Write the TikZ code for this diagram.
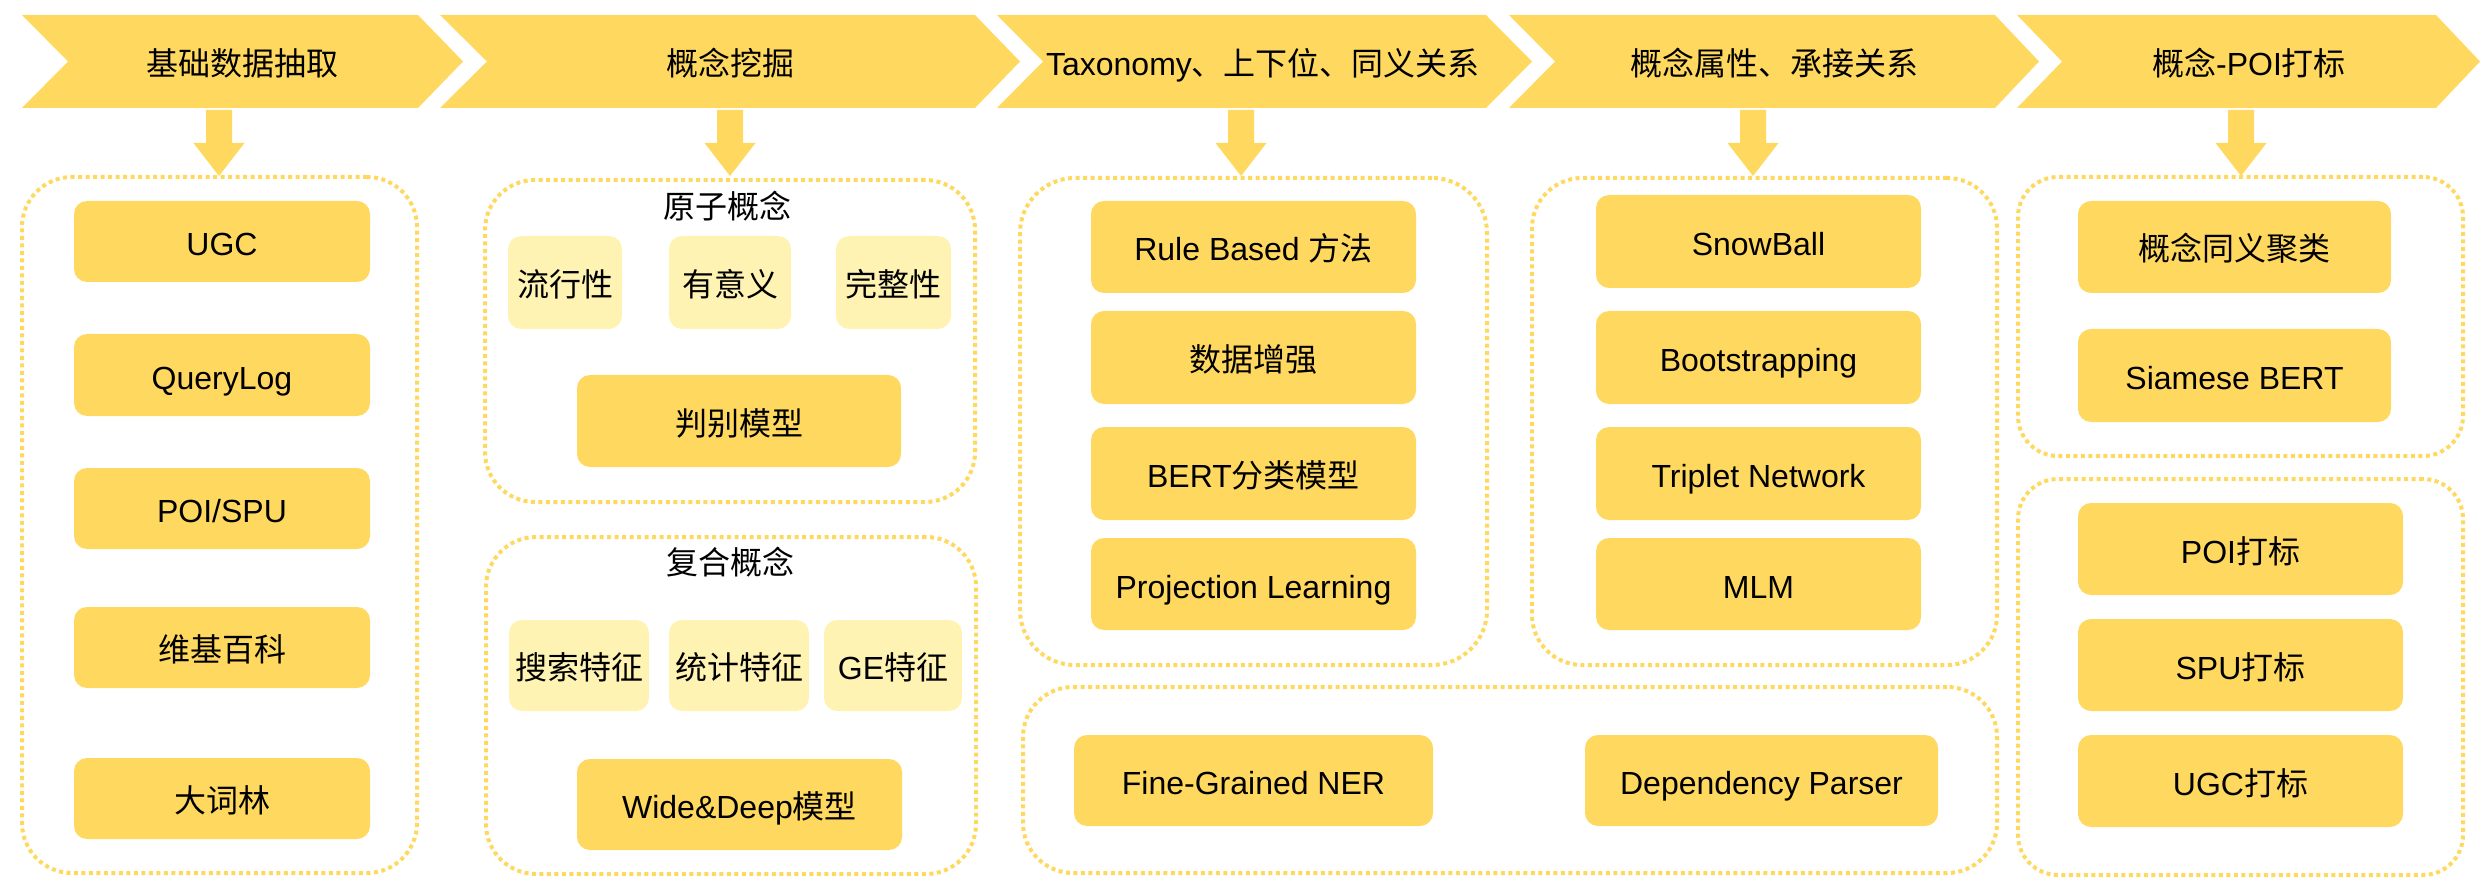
\documentclass[tikz,border=0pt]{standalone}
\usepackage{fontspec}
\setmainfont{Liberation Sans}
\newfontfamily\cjk{Noto Sans CJK SC}
\usetikzlibrary{fit}
\definecolor{Y}{RGB}{255,217,95}
\definecolor{LY}{RGB}{255,243,180}
\tikzset{
  ttl/.style={inner sep=0pt, text=black, text height=28pt, text depth=0pt},
  dotbox/.style={draw=Y, line width=4pt, dash pattern=on 4pt off 3.5pt, rounded corners=50pt, inner sep=0pt},
  sbox/.style={fill=Y, rounded corners=13pt, inner sep=0pt, text=black, text height=28pt, text depth=0pt},
  lbox/.style={fill=LY, rounded corners=13pt, inner sep=0pt, text=black, text height=28pt, text depth=0pt},
  lab/.style={inner sep=0pt, text=black},
}
% \bx{name}{style}{x1}{y1}{x2}{y2}{text}
\newcommand\bx[7]{\node[#2, minimum width={(#5-#3)*1pt}, minimum height={(#6-#4)*1pt}, anchor=center] (#1) at ({(#3+#5)/2},{(#4+#6)/2}) {#7};}
\newcommand\darr[1]{\fill[Y] (#1-13,110) -- (#1+13,110) -- (#1+13,143) -- (#1+25.5,143) -- (#1,176) -- (#1-25.5,143) -- (#1-13,143) -- cycle;}
\begin{document}
\begin{tikzpicture}[x=1pt, y=-1pt, font=\fontsize{32}{38}\selectfont]
\useasboundingbox (0,0) rectangle (2492,890);
% chevrons
\fill[Y] (22,15) -- (418,15) -- (463,61.5) -- (418,108) -- (22,108) -- (68,61.5) -- cycle;
\fill[Y] (440,15) -- (975,15) -- (1020,61.5) -- (975,108) -- (440,108) -- (487,61.5) -- cycle;
\fill[Y] (997,15) -- (1486,15) -- (1532,61.5) -- (1486,108) -- (997,108) -- (1043,61.5) -- cycle;
\fill[Y] (1509,15) -- (1995,15) -- (2039,61.5) -- (1995,108) -- (1509,108) -- (1555,61.5) -- cycle;
\fill[Y] (2017,15) -- (2436,15) -- (2480,61.5) -- (2436,108) -- (2017,108) -- (2062,61.5) -- cycle;
\node[ttl] (t1) at (242,61.5) {\cjk 基础数据抽取};
\node[ttl] (t2) at (730,61.5) {\cjk 概念挖掘};
\node[ttl] (t3) at (1263,61.5) {Taxonomy{\cjk 、上下位、同义关系}};
\node[ttl] (t4) at (1774,61.5) {\cjk 概念属性、承接关系};
\node[ttl] (t5) at (2249,61.5) {{\cjk 概念}-POI{\cjk 打标}};
% down arrows
\darr{219}
\darr{730}
\darr{1241}
\darr{1753}
\darr{2241}
% group boxes
\node[dotbox, fit={(22,177) (417,873)}] (g1) {};
\node[dotbox, fit={(485,180) (975,502)}] (g2a) {};
\node[dotbox, fit={(486,537) (976,874)}] (g2b) {};
\node[dotbox, rounded corners=55pt, fit={(1020,178) (1487,665)}] (g3) {};
\node[dotbox, fit={(1023,687) (1997,873)}] (g34) {};
\node[dotbox, fit={(1532,178) (1997,665)}] (g4) {};
\node[dotbox, rounded corners=40pt, fit={(2018,177) (2463,456)}] (g5a) {};
\node[dotbox, rounded corners=40pt, fit={(2018,479) (2463,875)}] (g5b) {};
% column 1
\bx{ugc}{sbox}{74}{201}{370}{282}{UGC}
\bx{qlog}{sbox}{74}{334}{370}{416}{QueryLog}
\bx{poispu}{sbox}{74}{468}{370}{549}{POI/SPU}
\bx{wiki}{sbox}{74}{607}{370}{688}{\cjk 维基百科}
\bx{dcl}{sbox}{74}{758}{370}{839}{\cjk 大词林}
% column 2
\node[lab] (atomlab) at (727,206) {\cjk 原子概念};
\bx{lxx}{lbox}{508}{236}{622}{329}{\cjk 流行性}
\bx{yyy}{lbox}{669}{236}{791}{329}{\cjk 有意义}
\bx{wzx}{lbox}{836}{236}{951}{329}{\cjk 完整性}
\bx{pbmx}{sbox}{577}{375}{901}{467}{\cjk 判别模型}
\node[lab] (complab) at (730,562) {\cjk 复合概念};
\bx{sstz}{lbox}{509}{620}{649}{711}{\cjk 搜索特征}
\bx{tjtz}{lbox}{669}{620}{809}{711}{\cjk 统计特征}
\bx{getz}{lbox}{824}{620}{962}{711}{GE{\cjk 特征}}
\bx{wd}{sbox}{577}{759}{902}{850}{Wide\&Deep{\cjk 模型}}
% column 3
\bx{rule}{sbox}{1091}{201}{1416}{293}{Rule Based {\cjk 方法}}
\bx{aug}{sbox}{1091}{311}{1416}{404}{\cjk 数据增强}
\bx{bert}{sbox}{1091}{427}{1416}{520}{BERT{\cjk 分类模型}}
\bx{proj}{sbox}{1091}{538}{1416}{630}{Projection Learning}
% bottom shared
\bx{ner}{sbox}{1074}{735}{1433}{826}{Fine-Grained NER}
\bx{dep}{sbox}{1585}{735}{1938}{826}{Dependency Parser}
% column 4
\bx{snow}{sbox}{1596}{195}{1921}{288}{SnowBall}
\bx{boot}{sbox}{1596}{311}{1921}{404}{Bootstrapping}
\bx{trip}{sbox}{1596}{427}{1921}{520}{Triplet Network}
\bx{mlm}{sbox}{1596}{538}{1921}{630}{MLM}
% column 5
\bx{tyjl}{sbox}{2078}{201}{2391}{293}{\cjk 概念同义聚类}
\bx{siam}{sbox}{2078}{329}{2391}{422}{Siamese BERT}
\bx{poidb}{sbox}{2078}{503}{2403}{595}{POI{\cjk 打标}}
\bx{spudb}{sbox}{2078}{619}{2403}{711}{SPU{\cjk 打标}}
\bx{ugcdb}{sbox}{2078}{735}{2403}{827}{UGC{\cjk 打标}}
\end{tikzpicture}
\end{document}
